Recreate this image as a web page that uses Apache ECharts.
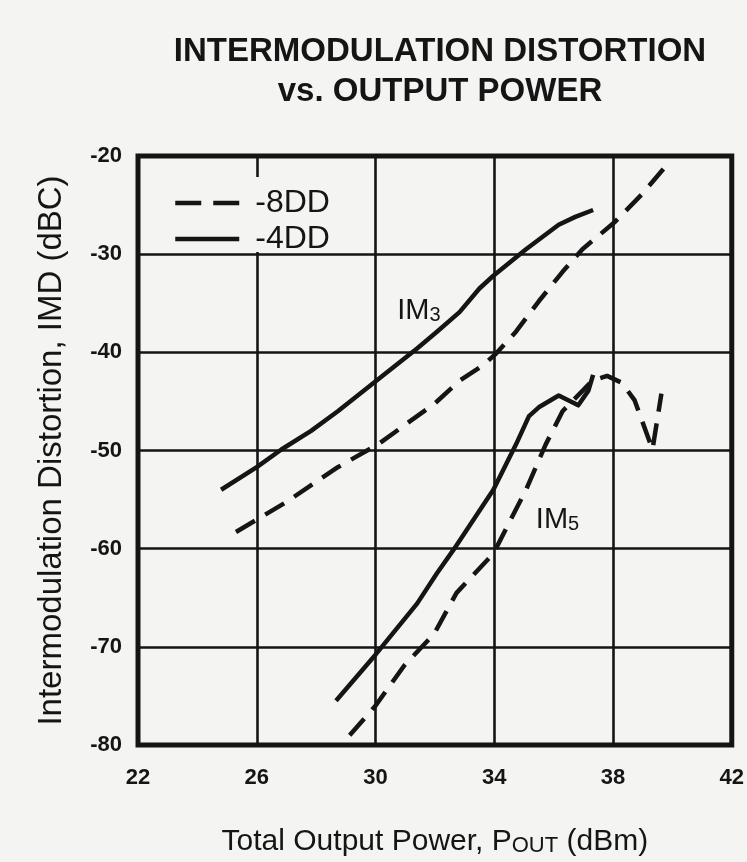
<!DOCTYPE html>
<html>
<head>
<meta charset="utf-8">
<style>
  html, body { margin: 0; padding: 0; background: #f4f4f2; }
  #chart { width: 747px; height: 862px; }
</style>
<script src="https://cdn.jsdelivr.net/npm/echarts@6/dist/echarts.min.js"></script>
</head>
<body>
<div id="chart"></div>
<script>
// Axis ticks
const powerTicks = [22, 26, 30, 34, 38, 42];
const imdTicks = [-80, -70, -60, -50, -40, -30, -20];

// IM3, -8DD drive
const im3Power8 = [25.3, 26.97, 28.73, 30.07, 32.0, 32.83, 33.63, 34.07, 34.73, 35.5, 36.3, 36.97, 38.07, 38.97, 39.73];
const im3Imd8   = [-58.3, -55.3, -51.7, -49.4, -45.2, -42.9, -41.3, -40.1, -37.9, -34.8, -31.8, -29.5, -26.7, -23.9, -21.2];

// IM3, -4DD drive
const im3Power4 = [24.8, 26.0, 26.83, 27.83, 28.73, 30.07, 31.4, 32.07, 32.83, 33.5, 33.97, 35.07, 36.17, 36.73, 37.33];
const im3Imd4   = [-54.0, -51.7, -49.9, -48.0, -46.0, -42.8, -39.6, -37.9, -35.9, -33.5, -32.2, -29.5, -27.0, -26.2, -25.5];

// IM5, -8DD drive
const im5Power8 = [29.13, 30.0, 30.97, 31.97, 32.73, 33.97, 35.07, 35.73, 36.3, 37.3, 37.8, 38.3, 38.73, 39.33, 39.63];
const im5Imd8   = [-79.0, -76.0, -71.9, -68.7, -64.5, -60.5, -54.0, -49.4, -46.0, -42.9, -42.4, -43.1, -44.9, -49.9, -44.2];

// IM5, -4DD drive
const im5Power4 = [28.67, 30.0, 31.4, 32.07, 32.63, 33.97, 34.73, 35.17, 35.5, 36.17, 36.83, 37.17, 37.33];
const im5Imd4   = [-75.5, -70.8, -65.6, -62.5, -60.1, -54.0, -49.4, -46.5, -45.6, -44.4, -45.4, -43.9, -42.3];

const legendNames = ['-8DD', '-4DD'];

const INK = '#151515';
const PAPER = '#f4f4f2';
const FONT = '"Liberation Sans", Arial, Helvetica, sans-serif';

const pairs = (xs, ys) => xs.map((x, i) => [x, ys[i]]);
const tickStep = powerTicks[1] - powerTicks[0];

function curve(name, xs, ys, dashed) {
  return {
    type: 'line',
    name: name,
    data: pairs(xs, ys),
    symbol: 'none',
    silent: true,
    z: 2,
    itemStyle: { color: INK },
    lineStyle: {
      color: INK,
      width: 4.5,
      type: dashed ? [22, 12] : 'solid',
      cap: 'butt',
      join: 'round'
    }
  };
}

const chart = echarts.init(document.getElementById('chart'), null, { renderer: 'canvas' });

chart.setOption({
  backgroundColor: PAPER,
  animation: false,
  textStyle: { fontFamily: FONT, color: INK },
  title: {
    text: 'INTERMODULATION DISTORTION\nvs. OUTPUT POWER',
    left: 440,
    top: 32,
    textAlign: 'center',
    padding: 0,
    textStyle: {
      fontFamily: FONT,
      fontSize: 33,
      fontWeight: 'bold',
      lineHeight: 40,
      color: INK
    }
  },
  legend: {
    data: [
      { name: legendNames[0], lineStyle: { type: [26, 12] } },
      { name: legendNames[1] }
    ],
    orient: 'vertical',
    left: 142,
    top: 180,
    padding: [7, 12, 0, 31],
    itemGap: 4,
    itemWidth: 64,
    itemHeight: 14,
    backgroundColor: 'transparent',
    selectedMode: false,
    itemStyle: { opacity: 0 },
    lineStyle: { width: 4.5 },
    textStyle: {
      fontFamily: FONT,
      fontSize: 32,
      color: INK,
      padding: [0, 0, 0, 11]
    }
  },
  grid: {
    left: 138,
    top: 156,
    width: 600,
    height: 594,
    show: true,
    borderColor: INK,
    borderWidth: 5,
    backgroundColor: 'transparent'
  },
  xAxis: {
    type: 'value',
    min: powerTicks[0],
    max: powerTicks[powerTicks.length - 1],
    interval: tickStep / 2,
    axisLine: { show: false },
    axisTick: { show: false },
    splitLine: {
      show: true,
      // every other half-step line is drawn, giving gridlines at the labelled ticks
      lineStyle: { color: [INK, 'rgba(0,0,0,0)'], width: 2.6 }
    },
    axisLabel: {
      margin: 22,
      fontFamily: FONT,
      fontSize: 22,
      fontWeight: 'bold',
      color: INK,
      formatter: v => (powerTicks.indexOf(v) >= 0 ? String(v) : '')
    },
    name: 'Total Output Power, P{s|OUT} (dBm)',
    nameLocation: 'middle',
    nameGap: 82,
    nameTextStyle: {
      fontFamily: FONT,
      fontSize: 30,
      color: INK,
      rich: {
        s: { fontFamily: FONT, fontSize: 22, color: INK, verticalAlign: 'bottom', lineHeight: 30 }
      }
    }
  },
  yAxis: {
    type: 'value',
    min: imdTicks[0],
    max: imdTicks[imdTicks.length - 1],
    interval: imdTicks[1] - imdTicks[0],
    axisLine: { show: false },
    axisTick: { show: false },
    splitLine: { show: true, lineStyle: { color: INK, width: 2.6 } },
    axisLabel: {
      margin: 16,
      fontFamily: FONT,
      fontSize: 22,
      fontWeight: 'bold',
      color: INK
    },
    name: 'Intermodulation Distortion, IMD (dBC)',
    nameLocation: 'middle',
    nameRotate: 90,
    nameGap: 70,
    nameTextStyle: { fontFamily: FONT, fontSize: 33, color: INK }
  },
  series: [
    curve('-8DD', im3Power8, im3Imd8, true),
    curve('-4DD', im3Power4, im3Imd4, false),
    curve('-8DD', im5Power8, im5Imd8, true),
    curve('-4DD', im5Power4, im5Imd4, false)
  ]
});

// Curve family labels, anchored in data coordinates
const familyLabels = [
  { main: 'IM', sub: '3', at: [30.73, -35.76] },
  { main: 'IM', sub: '5', at: [35.4, -57.07] }
];

const labelGraphics = familyLabels.map(lab => {
  const p = chart.convertToPixel({ gridIndex: 0 }, lab.at);
  return {
    type: 'text',
    x: p[0],
    y: p[1],
    z: 10,
    style: {
      text: lab.main + '{s|' + lab.sub + '}',
      fontFamily: FONT,
      fontSize: 29,
      fill: INK,
      verticalAlign: 'middle',
      align: 'left',
      rich: {
        s: { fontFamily: FONT, fontSize: 20, fill: INK, verticalAlign: 'bottom', lineHeight: 29 }
      }
    }
  };
});

// Paper-coloured patch behind the legend that masks the gridlines under the key
const legendPatch = {
  type: 'rect',
  z: 1,
  silent: true,
  shape: { x: 142, y: 177, width: 229, height: 75 },
  style: { fill: PAPER }
};

chart.setOption({ graphic: [legendPatch].concat(labelGraphics) });
</script>
</body>
</html>
